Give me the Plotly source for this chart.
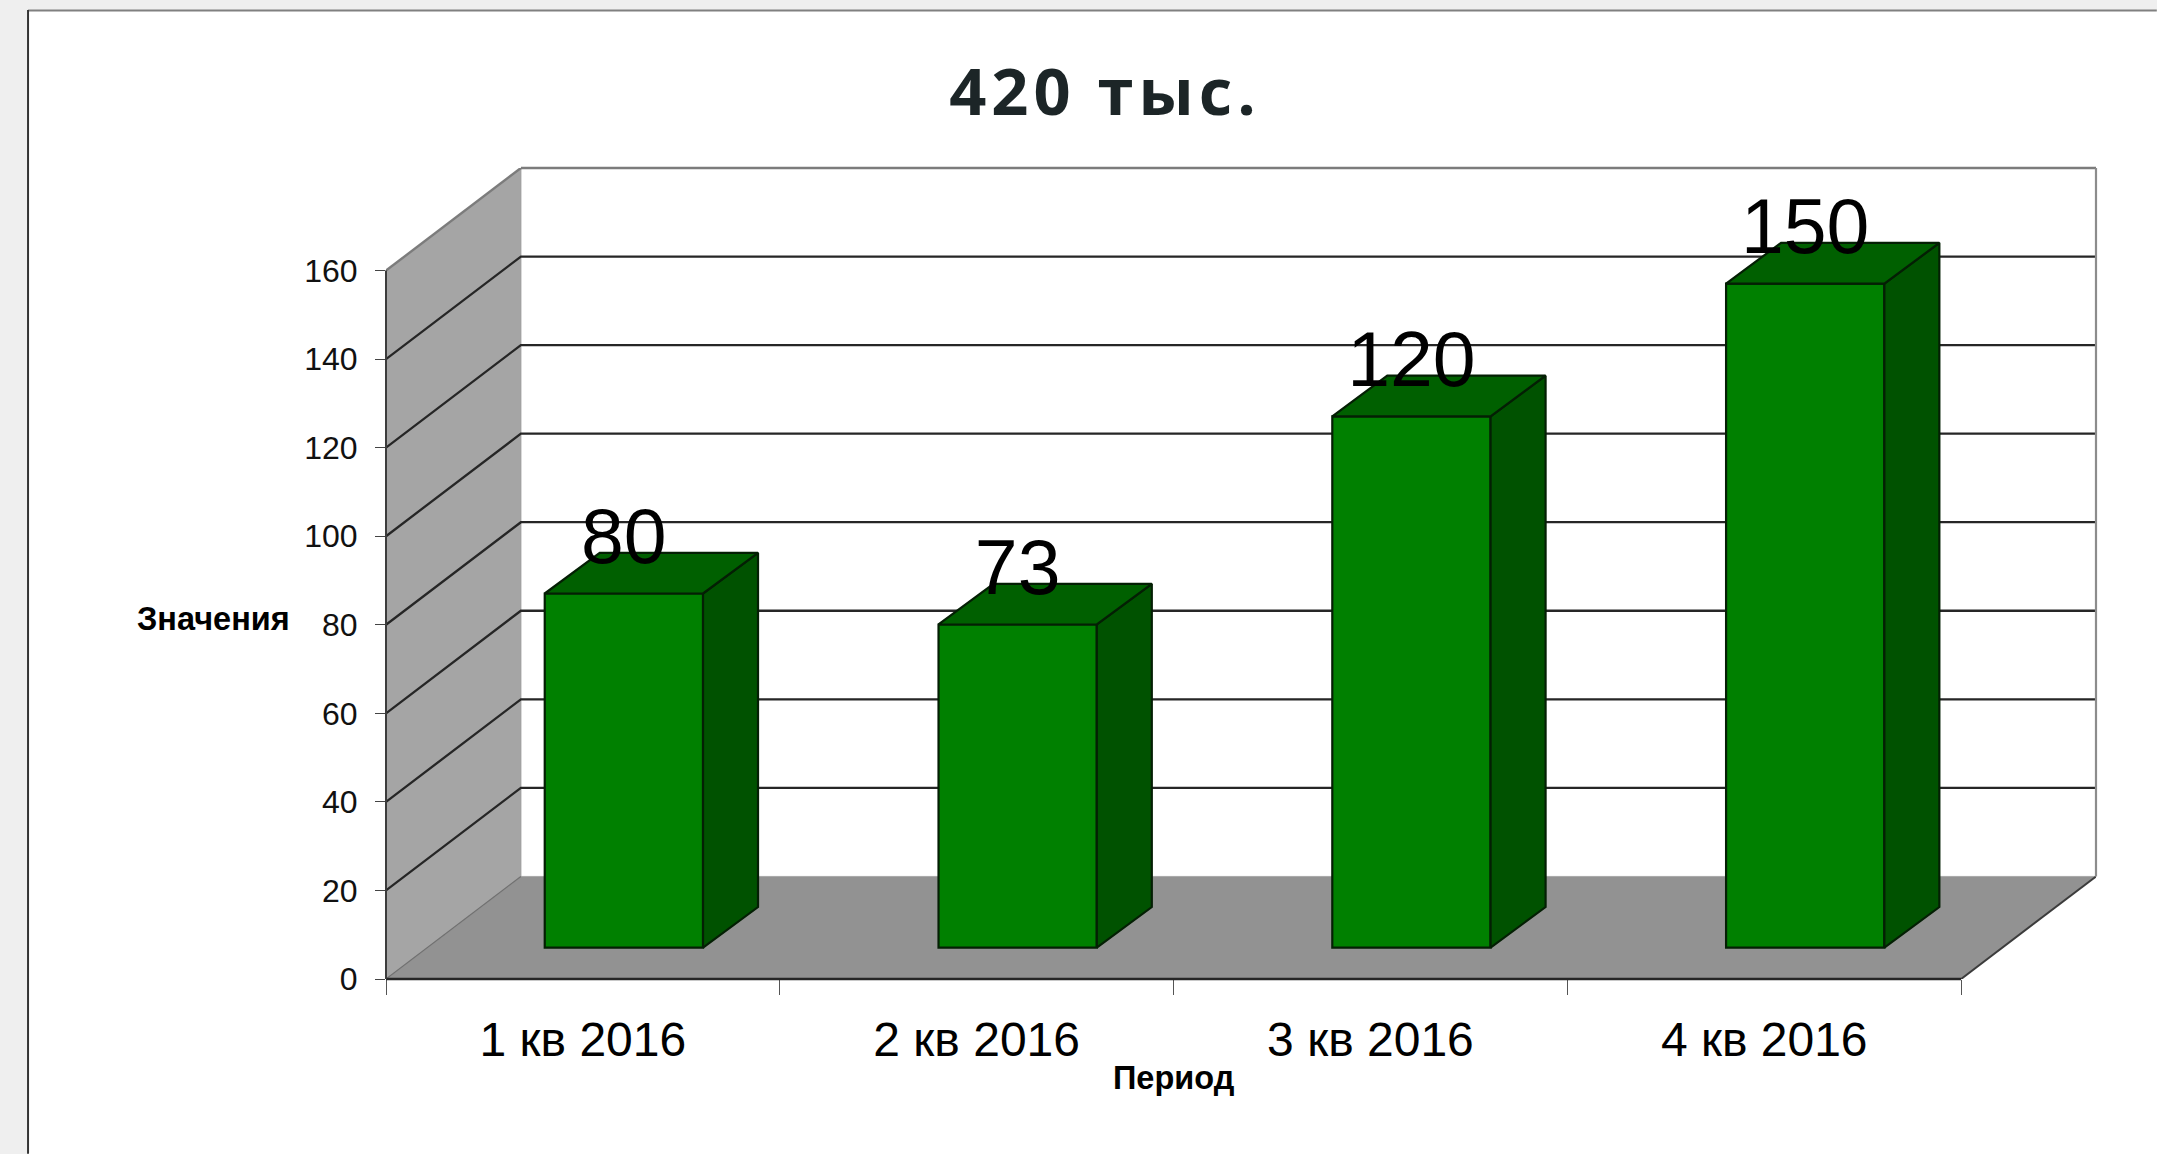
import plotly.graph_objects as go

categories = ["1 кв 2016", "2 кв 2016", "3 кв 2016", "4 кв 2016"]
values = [80, 73, 120, 150]
y_ticks = [0, 20, 40, 60, 80, 100, 120, 140, 160]
title_text = "420 тыс."
y_title = "Значения"
x_title = "Период"

W, H = 2157, 1154
X0, X4, Y0, Y160 = 386.0, 1961.3, 979.3, 270.7
CAT = (X4 - X0) / 4
UNIT = (Y0 - Y160) / 160
DEPTH_X = 134.9 / CAT
DEPTH_Y = 102.6 / UNIT
BAR_W = 158.3 / CAT
BAR_OFF_X = 41.0 / CAT
BAR_BASE = 31.3 / UNIT
BAR_DX = 55.0 / CAT
BAR_DY = 40.7 / UNIT
RIGHT = X4 + DEPTH_X * CAT
TOP = Y160 - DEPTH_Y * UNIT
LABEL_LIFT = 11 / UNIT

AXIS = "#333333"
WALL, FLOOR = "#a5a5a5", "#929292"
GREEN, TOPFACE, SIDE = "#008000", "#006000", "#005200"
EDGE = "#041f04"


def px(v):
    return (v - X0) / (RIGHT - X0)


def py(v):
    return (Y0 - v) / (Y0 - TOP)


fig = go.Figure()


def poly(xs, ys, fill=None, color=AXIS, width=2.0, overlay=False):
    fig.add_trace(go.Scatter(
        x=xs, y=ys, mode="lines",
        fill="toself" if fill else None,
        fillcolor=fill,
        line=dict(color=color, width=width),
        cliponaxis=False, hoverinfo="skip", showlegend=False,
        xaxis="x2" if overlay else "x", yaxis="y2" if overlay else "y",
    ))


def edge(x0, y0, x1, y1, color, width):
    # frame lines sit on the plot boundary, so they are drawn unclipped in paper space
    return dict(type="line", xref="paper", yref="paper", layer="above",
                x0=x0, y0=y0, x1=x1, y1=y1, line=dict(color=color, width=width))


# back planes
poly([0, 4, 4 + DEPTH_X, DEPTH_X, 0], [0, 0, DEPTH_Y, DEPTH_Y, 0], fill=FLOOR, color="#a8a8a8", width=1)
poly([0, DEPTH_X, DEPTH_X, 0, 0], [0, DEPTH_Y, 160 + DEPTH_Y, 160, 0], fill=WALL, color="#9a9a9a", width=1)

# gridlines on wall and back
for v in y_ticks[1:-1]:
    poly([0, DEPTH_X, 4 + DEPTH_X], [v, v + DEPTH_Y, v + DEPTH_Y], color="#262626", width=2.3)
poly([0, DEPTH_X], [160, 160 + DEPTH_Y], color="#7c7c7c", width=2.4)
poly([0, DEPTH_X], [0, DEPTH_Y], color="#707070", width=1.2)
poly([4, 4 + DEPTH_X], [0, DEPTH_Y], color="#3c3c3c", width=2)

# bars
centers = [i + 0.5 + BAR_OFF_X for i in range(len(values))]
fig.add_trace(go.Bar(
    x=centers, y=values, base=BAR_BASE, width=BAR_W,
    marker=dict(color=GREEN, line=dict(color=EDGE, width=2.2)),
    hoverinfo="skip", showlegend=False, xaxis="x2", yaxis="y2",
))
for c, v in zip(centers, values):
    l, r = c - BAR_W / 2, c + BAR_W / 2
    b, t = BAR_BASE, BAR_BASE + v
    poly([r, r + BAR_DX, r + BAR_DX, r, r], [b, b + BAR_DY, t + BAR_DY, t, b],
         fill=SIDE, color=EDGE, width=2.2, overlay=True)
    poly([l, l + BAR_DX, r + BAR_DX, r, l], [t, t + BAR_DY, t + BAR_DY, t, t],
         fill=TOPFACE, color=EDGE, width=2.2, overlay=True)

# value labels
fig.add_trace(go.Scatter(
    x=centers, y=[v + BAR_BASE + LABEL_LIFT for v in values], mode="text",
    text=[str(v) for v in values], textposition="top center",
    textfont=dict(family="Liberation Sans", size=77, color="#000000"),
    cliponaxis=False, hoverinfo="skip", showlegend=False, xaxis="x2", yaxis="y2",
))

x_range = [0, 4 + DEPTH_X]
y_range = [0, 160 + DEPTH_Y]

fig.update_layout(
    width=W, height=H,
    margin=dict(l=X0, r=W - RIGHT, t=TOP, b=H - Y0, autoexpand=False, pad=0),
    paper_bgcolor="#efefef", plot_bgcolor="rgba(0,0,0,0)",
    showlegend=False,
    title=dict(
        text=title_text, xref="paper", yref="container", x=px(1105), xanchor="center",
        y=1 - 101 / H, yanchor="bottom", pad=dict(b=-14),
        font=dict(family="Open Sans", size=65, color="#1c2527", weight="bold"),
    ),
    xaxis=dict(
        range=x_range, showgrid=False, zeroline=False, showline=False,
        tickmode="array", tickvals=[i + 0.5 for i in range(4)], ticktext=categories,
        ticks="", ticklabelstandoff=28,
        tickfont=dict(family="Liberation Sans", size=48, color="#000000"),
        minor=dict(tickmode="array", tickvals=[0, 1, 2, 3, 4], ticks="outside", ticklen=15,
                   tickwidth=1.4, tickcolor="#555555", showgrid=False),
    ),
    yaxis=dict(
        range=y_range, showgrid=False, zeroline=False, showline=False,
        tickmode="array", tickvals=y_ticks, ticktext=[str(v) for v in y_ticks],
        ticks="outside", ticklen=10, tickwidth=1.4, tickcolor="#444444", ticklabelstandoff=11,
        tickfont=dict(family="Liberation Sans", size=32, color="#111111"),
    ),
    xaxis2=dict(overlaying="x", matches="x", visible=False, anchor="y2"),
    yaxis2=dict(overlaying="y", matches="y", visible=False, anchor="x2"),
    barmode="overlay",
    shapes=[
        dict(type="rect", xref="paper", yref="paper", layer="below",
             x0=px(28), x1=px(W + 5), y0=py(H + 5), y1=py(11),
             fillcolor="#ffffff", line=dict(width=0)),
        dict(type="line", xref="paper", yref="paper", layer="below",
             x0=px(28), x1=px(W), y0=py(10.5), y1=py(10.5), line=dict(color="#808080", width=2)),
        dict(type="line", xref="paper", yref="paper", layer="below",
             x0=px(28), x1=px(28), y0=py(H), y1=py(10), line=dict(color="#333333", width=2)),
        edge(px(X0), py(Y0), px(X4), py(Y0), "#262626", 2.6),
        edge(px(X0), py(Y0), px(X0), py(Y160), "#3c3c3c", 2),
        edge(px(X0 + DEPTH_X * CAT), 1, 1, 1, "#7c7c7c", 2.4),
        edge(1, 1, 1, py(Y0 - DEPTH_Y * UNIT), "#8c8c8c", 2.2),
    ],
    annotations=[
        dict(text=y_title, xref="paper", yref="paper", x=px(213.5), y=py(619),
             xanchor="center", yanchor="middle", showarrow=False,
             font=dict(family="Liberation Sans", size=32.5, color="#000000", weight="bold")),
        dict(text=x_title, xref="paper", yref="paper", x=px(1174), y=py(1078),
             xanchor="center", yanchor="middle", showarrow=False,
             font=dict(family="Liberation Sans", size=32.5, color="#000000", weight="bold")),
    ],
)

post = """
document.documentElement.style.overflow='hidden';
document.body.style.margin='0';
document.body.style.background='#efefef';
document.querySelectorAll('.gtitle').forEach(function(t){t.style.letterSpacing='5px';});
"""
fig.write_html("out.html", post_script=post, config={"displayModeBar": False})
